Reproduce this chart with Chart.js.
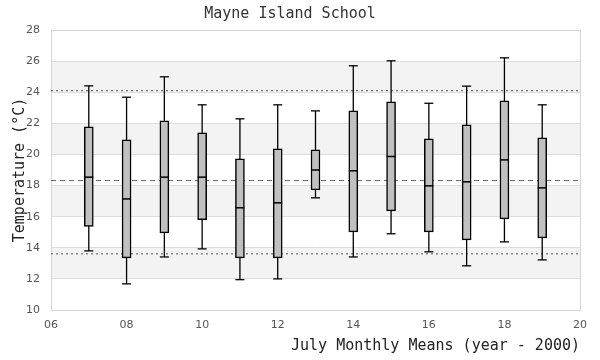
<!DOCTYPE html>
<html>
<head>
<meta charset="utf-8">
<script src="https://cdn.jsdelivr.net/npm/chart.js@4/dist/chart.umd.min.js"></script>
<style>
  html, body { margin: 0; padding: 0; background: #fff; }
  #wrap { width: 600px; height: 360px; }
</style>
</head>
<body>
<div id="wrap"><canvas id="c"></canvas></div>
<script>
/* Mayne Island School - July monthly mean temperature boxplots */

const years = [7, 8, 9, 10, 11, 12, 13, 14, 15, 16, 17, 18, 19];
const whiskerLo = [13.8, 11.68, 13.41, 13.93, 11.95, 12.0, 17.21, 13.41, 14.9, 13.74, 12.84, 14.38, 13.22];
const q1 = [15.38, 13.35, 14.96, 15.8, 13.35, 13.35, 17.72, 15.02, 16.37, 15.02, 14.51, 15.86, 14.64];
const median = [18.54, 17.14, 18.54, 18.54, 16.57, 16.89, 19.0, 18.95, 19.87, 17.98, 18.24, 19.65, 17.85];
const q3 = [21.77, 20.94, 22.16, 21.39, 19.72, 20.36, 20.3, 22.8, 23.38, 21.0, 21.9, 23.45, 21.07];
const whiskerHi = [24.41, 23.68, 24.99, 23.19, 22.29, 23.19, 22.8, 25.7, 26.02, 23.29, 24.39, 26.21, 23.19];

const upperRef = 24.1;
const meanRef = 18.32;
const lowerRef = 13.61;

const xTicks = [6, 8, 10, 12, 14, 16, 18, 20];
const yTicks = [10, 12, 14, 16, 18, 20, 22, 24, 26, 28];
const shadedBands = [12, 16, 20, 24];

const MONO = "'DejaVu Sans Mono', 'Liberation Mono', monospace";
const SANS = "'DejaVu Sans', sans-serif";

// whiskers: one segment per year, split by null gaps
const whiskerPts = [];
years.forEach((yr, i) => {
  whiskerPts.push({ x: yr, y: whiskerLo[i] }, { x: yr, y: whiskerHi[i] }, { x: yr + 0.5, y: null });
});

function refLine(v, dash, color) {
  return {
    type: "line",
    data: [{ x: xTicks[0], y: v }, { x: xTicks[xTicks.length - 1], y: v }],
    borderColor: color,
    borderWidth: 1,
    borderDash: dash,
    pointRadius: 0,
    order: 4,
  };
}

const bands = {
  id: "bands",
  beforeDraw(chart) {
    const { ctx, chartArea: a, scales: { y } } = chart;
    ctx.save();
    ctx.fillStyle = "#f3f3f3";
    shadedBands.forEach((v) => {
      const top = y.getPixelForValue(v + 2), bot = y.getPixelForValue(v);
      ctx.fillRect(a.left, top, a.right - a.left, bot - top);
    });
    ctx.restore();
  },
  beforeDatasetsDraw(chart) {
    const { ctx, chartArea: a } = chart;
    ctx.save();
    ctx.strokeStyle = "#d6d6d6";
    ctx.lineWidth = 1;
    ctx.strokeRect(Math.round(a.left) + 0.5, Math.round(a.top) + 0.5, Math.round(a.right - a.left), Math.round(a.bottom - a.top));
    ctx.restore();
  },
};

new Chart(document.getElementById("c"), {
  type: "bar",
  data: {
    datasets: [
      {
        type: "line",
        data: years.map((x, i) => ({ x, y: median[i] })),
        showLine: false,
        pointStyle: "line",
        pointRadius: 4.5,
        pointBorderColor: "#000",
        pointBorderWidth: 1.5,
        order: 0,
      },
      {
        type: "line",
        data: years.map((x, i) => ({ x, y: whiskerLo[i] })).concat(years.map((x, i) => ({ x, y: whiskerHi[i] }))),
        showLine: false,
        pointStyle: "line",
        pointRadius: 4.5,
        pointBorderColor: "#000",
        pointBorderWidth: 1.3,
        order: 0,
      },
      {
        type: "bar",
        data: years.map((x, i) => ({ x, y: [q1[i], q3[i]] })),
        backgroundColor: "#c0c0c0",
        borderColor: "#000",
        borderWidth: 1.5,
        borderSkipped: false,
        barThickness: 9,
        order: 1,
      },
      {
        type: "line",
        data: whiskerPts,
        borderColor: "#000",
        borderWidth: 1.3,
        pointRadius: 0,
        spanGaps: false,
        order: 2,
      },
      refLine(upperRef, [2, 3], "#555"),
      refLine(meanRef, [5, 4], "#666"),
      refLine(lowerRef, [2, 3], "#555"),
    ],
  },
  options: {
    responsive: true,
    maintainAspectRatio: false,
    animation: false,
    layout: { padding: { left: 0, right: 20, top: 0, bottom: 0 } },
    plugins: {
      legend: { display: false },
      tooltip: { enabled: false },
      title: {
        display: true,
        text: "Mayne Island School",
        color: "#333",
        font: { family: MONO, size: 15, weight: "normal" },
        padding: { top: 5, bottom: 7 },
      },
    },
    scales: {
      x: {
        type: "linear",
        offset: false,
        min: 6,
        max: 20,
        afterBuildTicks: (s) => { s.ticks = xTicks.map((v) => ({ value: v })); },
        afterFit: (s) => { s.height = 50; },
        grid: { display: false, drawTicks: false },
        border: { display: false },
        ticks: {
          color: "#555",
          font: { family: SANS, size: 11 },
          padding: 9,
          callback: (v) => String(v).padStart(2, "0"),
        },
        title: {
          display: true,
          text: "July Monthly Means (year - 2000)",
          align: "end",
          color: "#222",
          font: { family: MONO, size: 15, weight: "normal" },
          padding: { top: 0, bottom: 5 },
        },
      },
      y: {
        min: 10,
        max: 28,
        afterBuildTicks: (s) => { s.ticks = yTicks.map((v) => ({ value: v })); },
        afterFit: (s) => { s.width = 51; },
        grid: { color: "#dcdcdc", drawTicks: false },
        border: { display: false },
        ticks: {
          color: "#555",
          font: { family: SANS, size: 11 },
          padding: 11,
        },
        title: {
          display: true,
          text: "Temperature (°C)",
          color: "#222",
          font: { family: MONO, size: 15, weight: "normal" },
          padding: { top: 11, bottom: 0 },
        },
      },
    },
  },
  plugins: [bands],
});
</script>
</body>
</html>
